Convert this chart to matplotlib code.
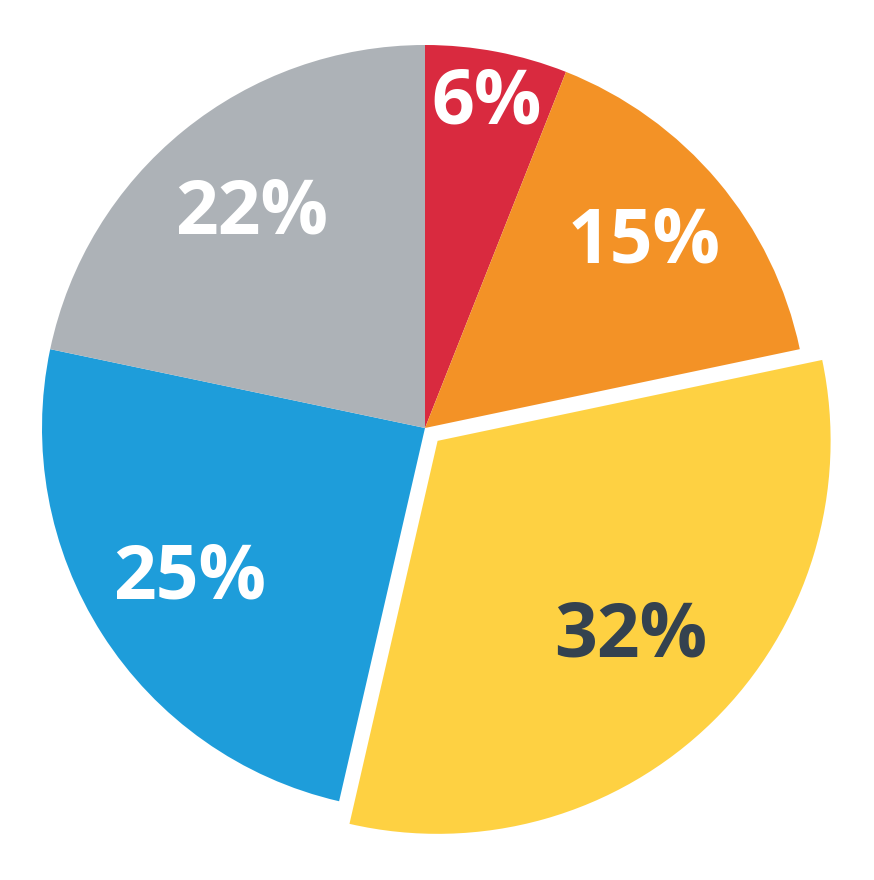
import numpy as np
import matplotlib.pyplot as plt

# slice values (share of the whole), read clockwise from 12 o'clock
values = [6.0, 15.7, 31.9, 24.7, 21.7]
labels = ["6%", "15%", "32%", "25%", "22%"]
colors = ["#D92A3F", "#F39226", "#FED142", "#1E9DDA", "#ADB2B7"]
text_colors = ["white", "white", "#34424F", "white", "white"]
explode = [0, 0, 18, 0, 0]          # pie offsets are in data units (px here)
radii = [383, 383, 393, 383, 383]   # highlighted slice is drawn a bit larger
label_dist = [0.86, 0.75, 0.70, 0.73, 0.72]

fig = plt.figure(figsize=(8.74, 8.80), dpi=100)
ax = fig.add_axes([0, 0, 1, 1])

wedges, _ = ax.pie(values, colors=colors, explode=explode, startangle=90,
                   counterclock=False, center=(425, 452), radius=383,
                   wedgeprops=dict(linewidth=0), frame=True)
ax.set_xlim(0, 874)
ax.set_ylim(0, 880)
ax.set_aspect("equal")
ax.axis("off")

for w, r, lab, tc, d in zip(wedges, radii, labels, text_colors, label_dist):
    w.set_radius(r)
    mid = np.deg2rad((w.theta1 + w.theta2) / 2)
    cx, cy = w.center
    ax.text(cx + d * r * np.cos(mid), cy + d * r * np.sin(mid), lab,
            ha="center", va="center", color=tc, fontsize=54,
            fontfamily="Open Sans", fontweight="bold")

fig.savefig("out.png", dpi=100)
